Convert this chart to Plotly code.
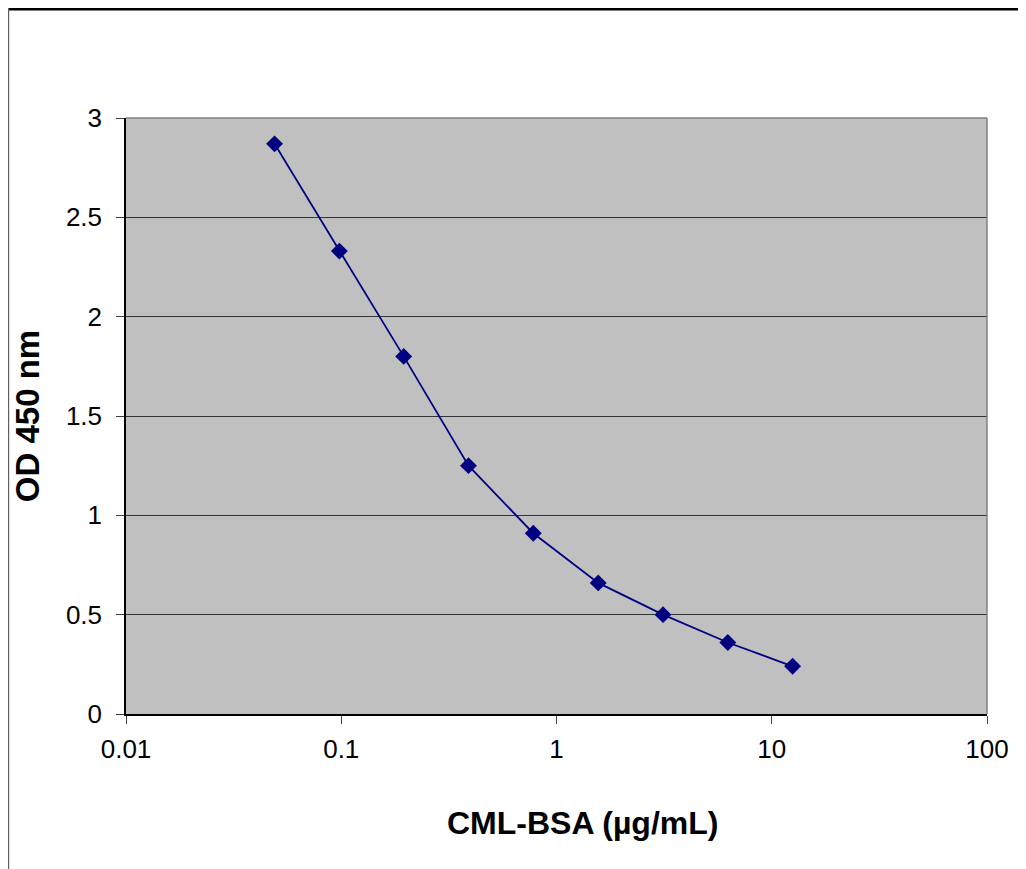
import plotly.graph_objects as go

concentration = [0.049, 0.098, 0.195, 0.39, 0.78, 1.5625, 3.125, 6.25, 12.5]
od450 = [2.87, 2.33, 1.80, 1.25, 0.91, 0.66, 0.50, 0.36, 0.24]
y_ticks = [0, 0.5, 1, 1.5, 2, 2.5, 3]
y_tick_labels = ["0", "0.5", "1", "1.5", "2", "2.5", "3"]
x_ticks = [0.01, 0.1, 1, 10, 100]
x_tick_labels = ["0.01", "0.1", "1", "10", "100"]
x_title = "CML-BSA (µg/mL)"
y_title = "OD 450 nm"

FONT = "Liberation Sans, Arial, sans-serif"

W, H = 1018, 861
ML, MR, MT, MB = 118, 39, 110, 155
PW, PH = W - ML - MR, H - MT - MB

fig = go.Figure()
fig.add_trace(go.Scatter(
    x=concentration, y=od450, mode="lines+markers",
    line=dict(color="#000080", width=1.8),
    marker=dict(symbol="diamond", size=13, color="#000080"),
    showlegend=False,
))

fig.update_layout(
    width=W, height=H,
    margin=dict(l=ML, r=MR, t=MT, b=MB),
    paper_bgcolor="white",
    plot_bgcolor="#C0C0C0",
    font=dict(family=FONT, color="black", size=26),
    xaxis=dict(
        type="log", range=[-2, 2],
        tickvals=x_ticks, ticktext=x_tick_labels,
        ticks="outside", ticklen=8, tickwidth=1, tickcolor="#404040",
        ticklabelstandoff=3,
        showline=True, linecolor="black", linewidth=1.5,
        showgrid=False, zeroline=False,
        tickfont=dict(size=26, family=FONT),
    ),
    yaxis=dict(
        range=[0, 3],
        tickvals=y_ticks, ticktext=y_tick_labels,
        ticks="outside", ticklen=8, tickwidth=1, tickcolor="#404040",
        ticklabelstandoff=9,
        showline=True, linecolor="black", linewidth=1.5,
        showgrid=True, gridcolor="#353535", gridwidth=1,
        zeroline=False,
        tickfont=dict(size=26, family=FONT),
        title=dict(text="<b>" + y_title + "</b>", font=dict(size=33, family=FONT), standoff=16),
    ),
    annotations=[
        dict(text="<b>" + x_title + "</b>", xref="paper", yref="paper",
             x=(582 - 126) / PW, y=0, xanchor="center", yanchor="middle",
             yshift=-109, showarrow=False, font=dict(size=32, family=FONT)),
    ],
    shapes=[
        # plot area top/right border
        dict(type="line", xref="x domain", yref="y domain", x0=0, x1=1, y0=1, y1=1,
             line=dict(color="#808080", width=1.5)),
        dict(type="line", xref="x domain", yref="y domain", x0=1, x1=1, y0=0, y1=1,
             line=dict(color="#808080", width=1.5)),
        # outer chart frame (top and left)
        dict(type="line", xref="paper", yref="paper",
             x0=-(ML - 0.5) / PW, x1=1 + MR / PW, y0=1 + (MT - 1.2) / PH, y1=1 + (MT - 1.2) / PH,
             line=dict(color="black", width=2.5)),
        dict(type="line", xref="paper", yref="paper",
             x0=-(ML - 0.6) / PW, x1=-(ML - 0.6) / PW, y0=-MB / PH, y1=1 + MT / PH,
             line=dict(color="#606060", width=1.2)),
    ],
)

fig.write_html("out.html")
